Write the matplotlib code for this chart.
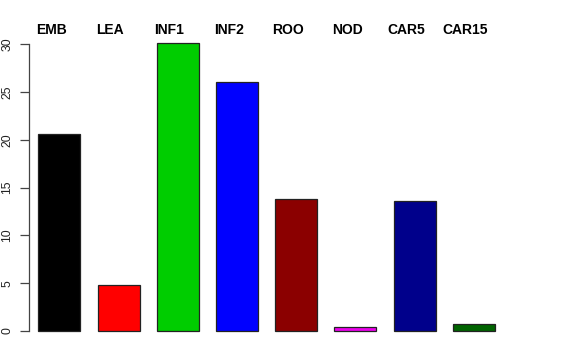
import matplotlib
matplotlib.use("Agg")
import matplotlib.pyplot as plt
import matplotlib.transforms as mtransforms

categories = ["EMB", "LEA", "INF1", "INF2", "ROO", "NOD", "CAR5", "CAR15"]
values = [20.6, 4.8, 30.1, 26.0, 13.75, 0.38, 13.6, 0.78]
colors = ["#000000", "#FF0000", "#00CD00", "#0000FF", "#8B0000", "#EE00EE", "#00008B", "#006400"]
yticks = [0, 5, 10, 15, 20, 25, 30]

plt.rcParams["font.family"] = ["Liberation Sans", "DejaVu Sans"]

fig = plt.figure(figsize=(5.76, 3.6), dpi=100)
ax = fig.add_axes([29 / 576, (360 - 342.5) / 360, (562 - 29) / 576, (342.5 - 31.8) / 360])

x = list(range(len(categories)))
ax.bar(x, values, width=0.71, color=colors, edgecolor="#222222", linewidth=0.9)

ax.set_xlim(-0.512, 8.49)
ax.set_ylim(-1.2, 31.28)

for s in ["top", "right", "bottom"]:
    ax.spines[s].set_visible(False)
ax.spines["left"].set_bounds(0, 30)
ax.spines["left"].set_color("#444444")
ax.spines["left"].set_linewidth(0.9)
ax.set_xticks([])
ax.set_yticks(yticks)
ax.set_yticklabels([str(v) for v in yticks], rotation=90, va="center", fontsize=8.8)
ax.tick_params(axis="y", length=6.2, pad=5.0, width=0.9, color="#444444", labelcolor="#222222")

trans = mtransforms.blended_transform_factory(ax.transData, fig.transFigure)
for i, name in enumerate(categories):
    ax.text(i - 0.14, (360 - 34) / 360, name, transform=trans, ha="center", va="baseline",
            fontsize=10, fontweight="bold", clip_on=False)

fig.savefig("out.png", dpi=100)
